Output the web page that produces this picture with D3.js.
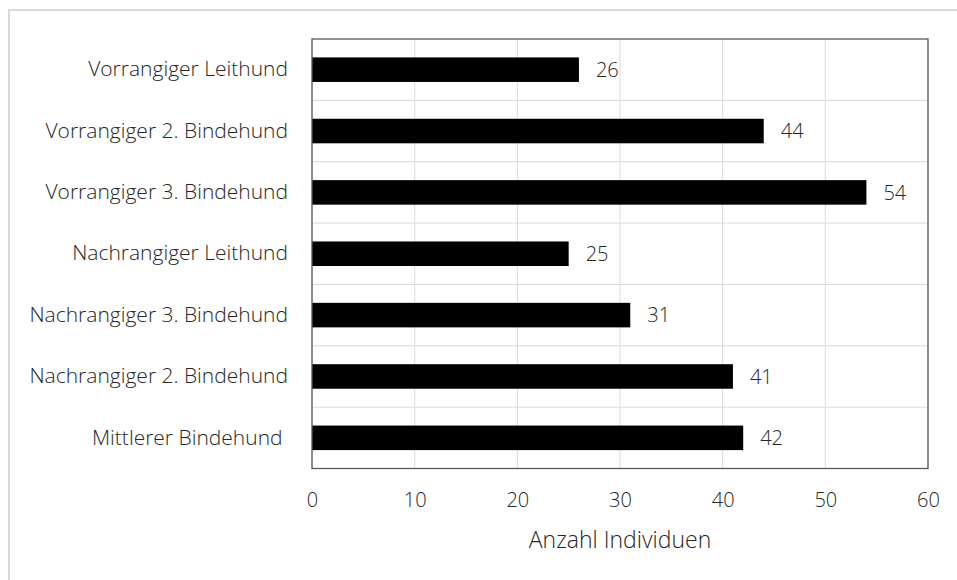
<!DOCTYPE html>
<html>
<head>
<meta charset="utf-8">
<script src="https://cdn.jsdelivr.net/npm/d3@7"></script>
<style>
  body { margin: 0; background: #fff; }
  text { font-family: "Open Sans", sans-serif; font-weight: 300; fill: #262626; }
</style>
</head>
<body>
<div id="app"></div>
<script>
"use strict";

// chart data
const categories = [
    'Vorrangiger Leithund',
    'Vorrangiger 2. Bindehund',
    'Vorrangiger 3. Bindehund',
    'Nachrangiger Leithund',
    'Nachrangiger 3. Bindehund',
    'Nachrangiger 2. Bindehund',
    'Mittlerer Bindehund '
];
const counts = [26, 44, 54, 25, 31, 41, 42];
const xTicks = [0, 10, 20, 30, 40, 50, 60];
const xTitle = 'Anzahl Individuen';

const width = 957, height = 580;
const plot = { left: 312, top: 39, right: 928, bottom: 468.5 };

const svg = d3.select('#app').append('svg')
    .attr('width', width)
    .attr('height', height);

// outer chart frame
svg.append('rect')
    .attr('x', 9).attr('y', 10)
    .attr('width', width).attr('height', height)
    .attr('fill', 'none')
    .attr('stroke', '#d9d9d9')
    .attr('stroke-width', 2);

const x = d3.scaleLinear()
    .domain([0, 60])
    .range([plot.left, plot.right]);

const y = d3.scaleBand()
    .domain(categories)
    .range([plot.top, plot.bottom])
    .paddingInner(0.6)
    .paddingOuter(0.3);

// vertical gridlines
svg.append('g')
    .selectAll('line')
    .data(xTicks)
    .join('line')
    .attr('x1', d => x(d)).attr('x2', d => x(d))
    .attr('y1', plot.top).attr('y2', plot.bottom)
    .attr('stroke', '#d9d9d9');

// horizontal gridlines between categories
const step = y.step();
svg.append('g')
    .selectAll('line')
    .data(categories.slice(1))
    .join('line')
    .attr('x1', plot.left).attr('x2', plot.right)
    .attr('y1', d => y(d) - step * 0.3)
    .attr('y2', d => y(d) - step * 0.3)
    .attr('stroke', '#d9d9d9');

// bars
svg.append('g')
    .selectAll('rect')
    .data(categories)
    .join('rect')
    .attr('x', x(0))
    .attr('y', d => y(d))
    .attr('width', (d, i) => x(counts[i]) - x(0))
    .attr('height', y.bandwidth())
    .attr('fill', '#000');

// value labels
svg.append('g')
    .selectAll('text')
    .data(categories)
    .join('text')
    .attr('x', (d, i) => x(counts[i]) + 17)
    .attr('y', d => y(d) + y.bandwidth() / 2)
    .attr('dy', '0.36em')
    .style('font-size', '20px')
    .text((d, i) => counts[i]);

// plot border
svg.append('rect')
    .attr('x', plot.left).attr('y', plot.top)
    .attr('width', plot.right - plot.left)
    .attr('height', plot.bottom - plot.top)
    .attr('fill', 'none')
    .attr('stroke', '#595959')
    .attr('stroke-width', 1.3);

// x axis labels
const xAxis = svg.append('g')
    .attr('transform', `translate(0,${plot.bottom})`)
    .call(d3.axisBottom(x).tickValues(xTicks).tickSize(0).tickPadding(24));
xAxis.select('.domain').remove();
xAxis.selectAll('text')
    .style('font-size', '20px')
    .attr('fill', '#262626');

// y axis labels
const yAxis = svg.append('g')
    .attr('transform', `translate(${plot.left},0)`)
    .call(d3.axisLeft(y).tickSize(0).tickPadding(24));
yAxis.select('.domain').remove();
yAxis.selectAll('text')
    .style('font-size', '21px')
    .style('white-space', 'pre')
    .attr('fill', '#262626');

// axis title
svg.append('text')
    .attr('x', (plot.left + plot.right) / 2)
    .attr('y', 548)
    .attr('text-anchor', 'middle')
    .style('font-size', '23px')
    .text(xTitle);
</script>
</body>
</html>
